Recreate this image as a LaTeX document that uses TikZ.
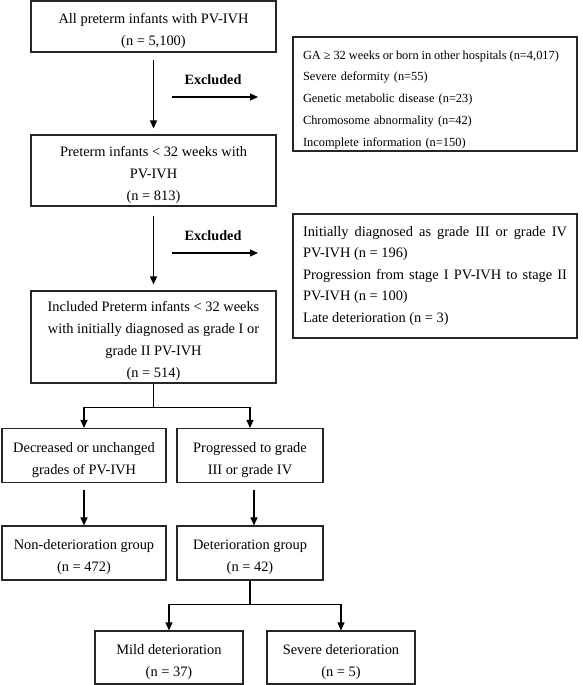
\documentclass[tikz,border=0pt]{standalone}
\usepackage{fontspec}
\setmainfont{Liberation Serif}
\usetikzlibrary{arrows.meta}
\newcommand\tstr{\rule{0pt}{19pt}}
\newcommand\estr{\rule{0pt}{20pt}}
\tikzset{
  box/.style={draw=black!85, line width=1.1pt, rectangle, inner sep=0pt, align=center,
    font=\fontsize{14.4}{22}\selectfont},
  exl/.style={draw=black!85, line width=1.1pt, rectangle, inner xsep=10pt, inner ysep=0pt,
    text width=264pt, align=left, font=\fontsize{12.4}{21.8}\selectfont},
  exj/.style={exl, align=justify, font=\fontsize{14.4}{21.5}\selectfont},
  arr/.style={line width=1.2pt, -{Triangle[length=8pt,width=7pt]}},
  lbl/.style={font=\bfseries\fontsize{14.2}{17}\selectfont, inner sep=0pt},
}
\begin{document}
\begin{tikzpicture}[x=1pt,y=-1pt]
\useasboundingbox (0,0) rectangle (583,685);
% main column
\node[box, minimum width=245pt, minimum height=51pt] (b1) at (153.5,26.5)
  {\tstr All preterm infants with PV-IVH\\(n = 5,100)};
\node[box, minimum width=245pt, minimum height=71pt] (b2) at (153.5,170.5)
  {\tstr Preterm infants < 32 weeks with\\PV-IVH\\(n = 813)};
\node[box, minimum width=245pt, minimum height=92pt] (b3) at (153.5,337)
  {\tstr Included Preterm infants < 32 weeks\\with initially diagnosed as grade I or\\grade II PV-IVH\\(n = 514)};
% exclusion boxes
\node[exl, minimum height=114pt] (e1) at (435,94)
  {\estr\makebox[256pt][s]{\spaceskip=2.2pt plus 4pt GA ≥ 32 weeks or born in other hospitals (n=4,017)}\\
   Severe deformity (n=55)\\
   Genetic metabolic disease (n=23)\\
   Chromosome abnormality (n=42)\\
   Incomplete information (n=150)};
\node[exj, minimum height=124pt] (e2) at (435,276)
  {Initially diagnosed as grade III or grade IV\linebreak
   PV-IVH (n = 196)\\
   Progression from stage I PV-IVH to stage II\linebreak
   PV-IVH (n = 100)\\
   Late deterioration (n = 3)};
% excluded labels and arrows
\node[lbl] (x1) at (213,80) {Excluded};
\node[lbl] (x2) at (213,236) {Excluded};
\coordinate (h1a) at (172,97);
\coordinate (h1b) at (258,97);
\coordinate (h2a) at (172,253);
\coordinate (h2b) at (258,253);
\draw[arr] (h1a) -- (h1b);
\draw[arr] (h2a) -- (h2b);
% lower boxes
\node[box, minimum width=164pt, minimum height=54pt] (b4a) at (84,455.5)
  {\tstr Decreased or unchanged\\grades of PV-IVH};
\node[box, minimum width=146pt, minimum height=54pt] (b4b) at (250,455.5)
  {\tstr Progressed to grade\\III or grade IV};
\node[box, minimum width=164pt, minimum height=54pt] (b5a) at (84,553)
  {\tstr Non-deterioration group\\(n = 472)};
\node[box, minimum width=146pt, minimum height=54pt] (b5b) at (250,553)
  {\tstr Deterioration group\\(n = 42)};
\node[box, minimum width=148pt, minimum height=53pt] (b6a) at (169,657.5)
  {\tstr Mild deterioration\\(n = 37)};
\node[box, minimum width=148pt, minimum height=53pt] (b6b) at (341,657.5)
  {\tstr Severe deterioration\\(n = 5)};
% connectors
\draw[arr] ([yshift=-7pt]b1.south) -- ([yshift=6pt]b2.north);
\draw[arr] ([yshift=-9pt]b2.south) -- ([yshift=6pt]b3.north);
\coordinate (s1) at ([yshift=-24pt]b3.south);
\draw[arr] (b3.south) -- (s1) -| (b4a.north);
\draw[arr] (s1) -| (b4b.north);
\draw[arr] ([yshift=-7pt]b4a.south) -- (b4a.south |- b5a.north);
\coordinate (t4b) at ([xshift=4pt]b4b.south);
\draw[arr] ([yshift=-7pt]t4b) -- (t4b |- b5b.north);
\coordinate (s2) at ([yshift=-24pt]b5b.south);
\draw[arr] (b5b.south) -- (s2) -| (b6a.north);
\draw[arr] (s2) -| (b6b.north);
\end{tikzpicture}
\end{document}
